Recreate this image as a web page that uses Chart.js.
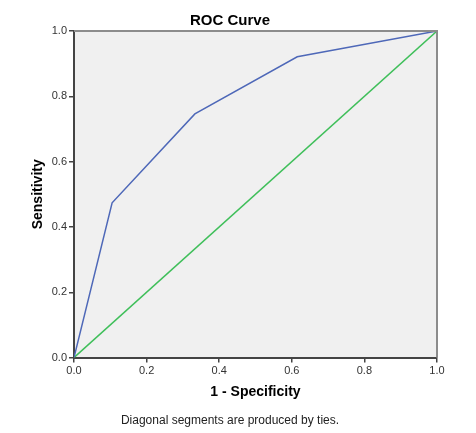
<!DOCTYPE html>
<html>
<head>
<meta charset="utf-8">
<script src="https://cdn.jsdelivr.net/npm/chart.js@4"></script>
<style>
  html, body { margin: 0; padding: 0; background: #fff; }
  #wrap { width: 476px; height: 433px; }
</style>
</head>
<body>
<div id="wrap"><canvas id="roc"></canvas></div>
<script>
// ROC curve points (1 - specificity, sensitivity)
const fpr = [0, 0.105, 0.333, 0.615, 1];
const tpr = [0, 0.474, 0.746, 0.921, 1];
// reference diagonal
const diagX = [0, 1];
const diagY = [0, 1];

const FONT = "'Liberation Sans', Arial, sans-serif";

const toPoints = (xs, ys) => xs.map((x, i) => ({ x: x, y: ys[i] }));

// plot background + top/right frame
const frame = {
  id: 'frame',
  beforeDraw(chart) {
    const { ctx, chartArea: a } = chart;
    ctx.save();
    ctx.fillStyle = '#f0f0f0';
    ctx.fillRect(a.left, a.top, a.right - a.left, a.bottom - a.top);
    ctx.restore();
  },
  afterDraw(chart) {
    const { ctx, chartArea: a } = chart;
    ctx.save();
    ctx.strokeStyle = '#8c8c8c';
    ctx.lineWidth = 2;
    ctx.beginPath();
    ctx.moveTo(a.left, a.top);
    ctx.lineTo(a.right, a.top);
    ctx.lineTo(a.right, a.bottom);
    ctx.stroke();
    ctx.restore();
  }
};

new Chart(document.getElementById('roc'), {
  type: 'scatter',
  data: {
    datasets: [
      {
        label: 'Curve',
        data: toPoints(fpr, tpr),
        showLine: true,
        borderColor: '#4e68b8',
        borderWidth: 1.5,
        pointRadius: 0
      },
      {
        label: 'Reference Line',
        data: toPoints(diagX, diagY),
        showLine: true,
        borderColor: '#3fbf5a',
        borderWidth: 1.5,
        pointRadius: 0
      }
    ]
  },
  options: {
    responsive: true,
    maintainAspectRatio: false,
    animation: false,
    layout: { padding: { left: 0, right: 16, top: 0, bottom: 0 } },
    plugins: {
      legend: { display: false },
      tooltip: { enabled: false },
      title: {
        display: true,
        text: 'ROC Curve',
        color: '#000',
        font: { family: FONT, size: 15, weight: 'bold' },
        padding: { top: 12, bottom: 1 }
      },
      subtitle: {
        display: true,
        position: 'bottom',
        text: 'Diagonal segments are produced by ties.',
        color: '#222',
        font: { family: FONT, size: 12, weight: 'normal' },
        padding: { top: 8, bottom: 5 }
      }
    },
    scales: {
      x: {
        type: 'linear',
        min: 0,
        max: 1,
        afterFit: s => { s.height = 48; },
        ticks: {
          stepSize: 0.2,
          padding: 2,
          color: '#333',
          font: { family: FONT, size: 11 },
          callback: v => Number(v).toFixed(1)
        },
        grid: { drawOnChartArea: false, tickLength: 5, lineWidth: 1.5, color: '#444' },
        border: { color: '#444', width: 2 },
        title: {
          display: true,
          text: '1 - Specificity',
          color: '#000',
          font: { family: FONT, size: 14, weight: 'bold' },
          padding: { top: 0, bottom: 4.6 }
        }
      },
      y: {
        type: 'linear',
        min: 0,
        max: 1,
        afterFit: s => { s.width = 74; },
        ticks: {
          stepSize: 0.2,
          padding: 2,
          color: '#333',
          font: { family: FONT, size: 11 },
          callback: v => Number(v).toFixed(1)
        },
        grid: { drawOnChartArea: false, tickLength: 5, lineWidth: 1.5, color: '#444' },
        border: { color: '#444', width: 2 },
        title: {
          display: true,
          text: 'Sensitivity',
          color: '#000',
          font: { family: FONT, size: 14, weight: 'bold' },
          padding: { top: 29.6, bottom: 0 }
        }
      },
      // empty spacer on the right so the plot ends where the reference does
      y2: {
        type: 'linear',
        position: 'right',
        display: true,
        afterFit: s => { s.width = 23; },
        ticks: { display: false },
        grid: { display: false },
        border: { display: false }
      }
    }
  },
  plugins: [frame]
});
</script>
</body>
</html>
